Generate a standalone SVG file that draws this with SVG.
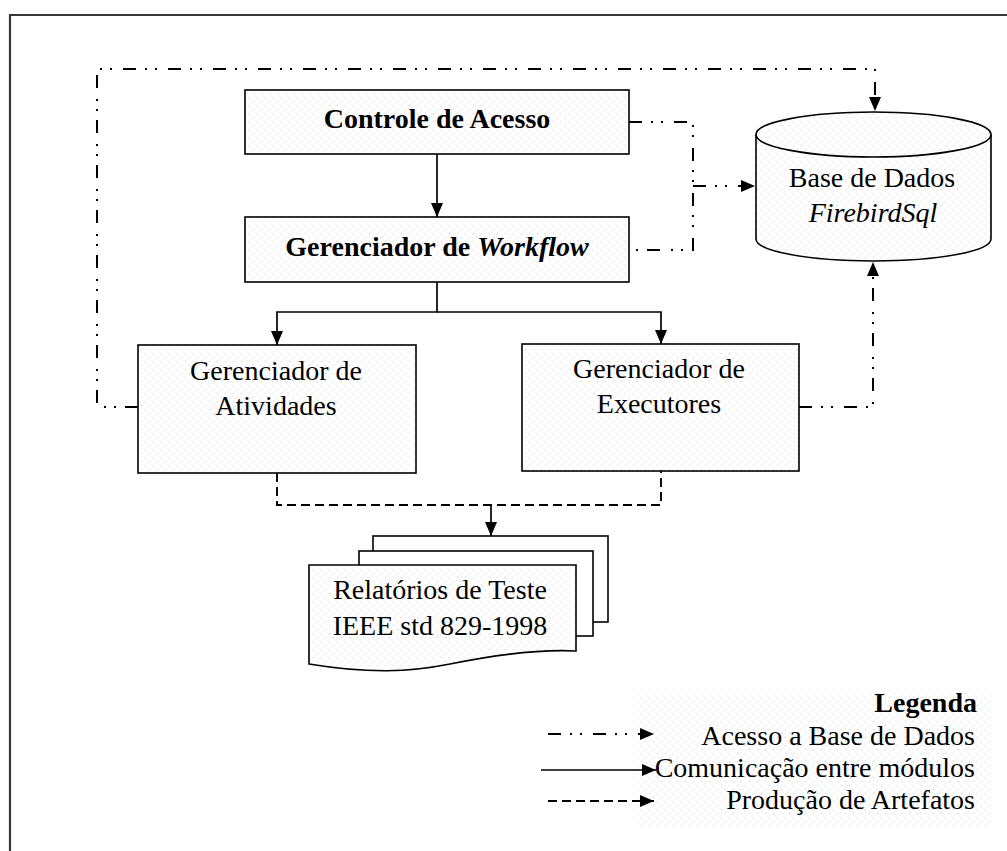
<svg xmlns="http://www.w3.org/2000/svg" width="1007" height="851" viewBox="0 0 1007 851">
  <style>
    text { font-family: "Liberation Serif", "Times New Roman", serif; font-size: 28px; fill: #000; }
    .b { font-weight: bold; }
    .mid { text-anchor: middle; }
    .end { text-anchor: end; }
    .box { fill: url(#stipple); stroke: #000; stroke-width: 1.6; }
    .sheet { fill: #fff; stroke: #000; stroke-width: 1.6; }
    .solid { fill: none; stroke: #000; stroke-width: 1.7; }
    .db { fill: none; stroke: #000; stroke-width: 2; stroke-dasharray: 13 9 2 8 2 11; }
    .art { fill: none; stroke: #000; stroke-width: 1.9; stroke-dasharray: 9 5; }
  </style>
  <defs>
    <pattern id="stipple" width="8" height="8" patternUnits="userSpaceOnUse">
      <rect width="8" height="8" fill="#fff"/>
      <circle cx="1.5" cy="1.5" r="0.7" fill="#d8d8d8"/>
      <circle cx="5.5" cy="5.5" r="0.7" fill="#d8d8d8"/>
    </pattern>
    <marker id="arrow" markerUnits="userSpaceOnUse" markerWidth="14" markerHeight="12" refX="14" refY="6" orient="auto">
      <path d="M0,0 L14,6 L0,12 Z" fill="#000"/>
    </marker>
  </defs>

  <rect width="1007" height="851" fill="#fff"/>
  <!-- frame -->
  <path d="M10,851 V15 H1007" fill="none" stroke="#383838" stroke-width="2.2"/>

  <!-- legend panel -->
  <g id="legenda">
    <rect x="635" y="690" width="358" height="137" fill="url(#stipple)"/>
    <text class="b end" x="977" y="712">Legenda</text>
    <text class="end" x="975" y="745">Acesso a Base de Dados</text>
    <text class="end" x="975" y="777">Comunicação entre módulos</text>
    <text class="end" x="975" y="809">Produção de Artefatos</text>
    <path class="db" d="M548,734 H654" marker-end="url(#arrow)"/>
    <path class="solid" d="M541,770 H656" marker-end="url(#arrow)"/>
    <path class="art" d="M548,801 H654" marker-end="url(#arrow)"/>
  </g>

  <!-- connectors -->
  <g id="connectors">
    <!-- module communication -->
    <path class="solid" d="M437,154 V217" marker-end="url(#arrow)"/>
    <path class="solid" d="M437,282 V312 H277 V345" marker-end="url(#arrow)"/>
    <path class="solid" d="M437,312 H661 V344" marker-end="url(#arrow)"/>
    <!-- database access -->
    <path class="db" d="M138,407 H97 V69 H875 V111" marker-end="url(#arrow)"/>
    <path class="db" d="M629,122 H693 V250 H629"/>
    <path class="db" d="M693,186 H755" marker-end="url(#arrow)"/>
    <path class="db" d="M799,407 H873 V262" marker-end="url(#arrow)"/>
    <!-- artefact production -->
    <path class="art" d="M277,473 V505 H661 V471"/>
    <path class="solid" d="M491,505 V536" marker-end="url(#arrow)"/>
  </g>

  <g id="controle-acesso">
    <rect class="box" x="245" y="90" width="384" height="64"/>
    <text class="b mid" x="437" y="128">Controle de Acesso</text>
  </g>

  <g id="gerenciador-workflow">
    <rect class="box" x="245" y="217" width="384" height="65"/>
    <text class="b mid" x="437" y="256">Gerenciador de <tspan font-style="italic">Workflow</tspan></text>
  </g>

  <g id="gerenciador-atividades">
    <rect class="box" x="138" y="345" width="278" height="128"/>
    <text class="mid" x="276" y="380">Gerenciador de</text>
    <text class="mid" x="276" y="415">Atividades</text>
  </g>

  <g id="gerenciador-executores">
    <rect class="box" x="522" y="344" width="277" height="127"/>
    <text class="mid" x="659" y="378">Gerenciador de</text>
    <text class="mid" x="659" y="413">Executores</text>
  </g>

  <g id="base-dados">
    <path class="box" d="M756,134.5 V239 A117.5,22 0 0 0 991,239 V134.5 A117.5,22.5 0 0 0 756,134.5 Z"/>
    <path class="solid" d="M756,134.5 A117.5,22.5 0 0 0 991,134.5"/>
    <text class="mid" x="872" y="187">Base de Dados</text>
    <text class="mid" x="873" y="222" font-style="italic">FirebirdSql</text>
  </g>

  <g id="relatorios">
    <rect class="sheet" x="373" y="536" width="235" height="86"/>
    <rect class="sheet" x="359" y="551" width="234" height="85"/>
    <path class="box" d="M309,565 H576 V651 C540,649 500,654 450,664 C410,672 370,674 309,664 Z"/>
    <text class="mid" x="440" y="599">Relatórios de Teste</text>
    <text class="mid" x="440" y="635">IEEE std 829-1998</text>
  </g>
</svg>
